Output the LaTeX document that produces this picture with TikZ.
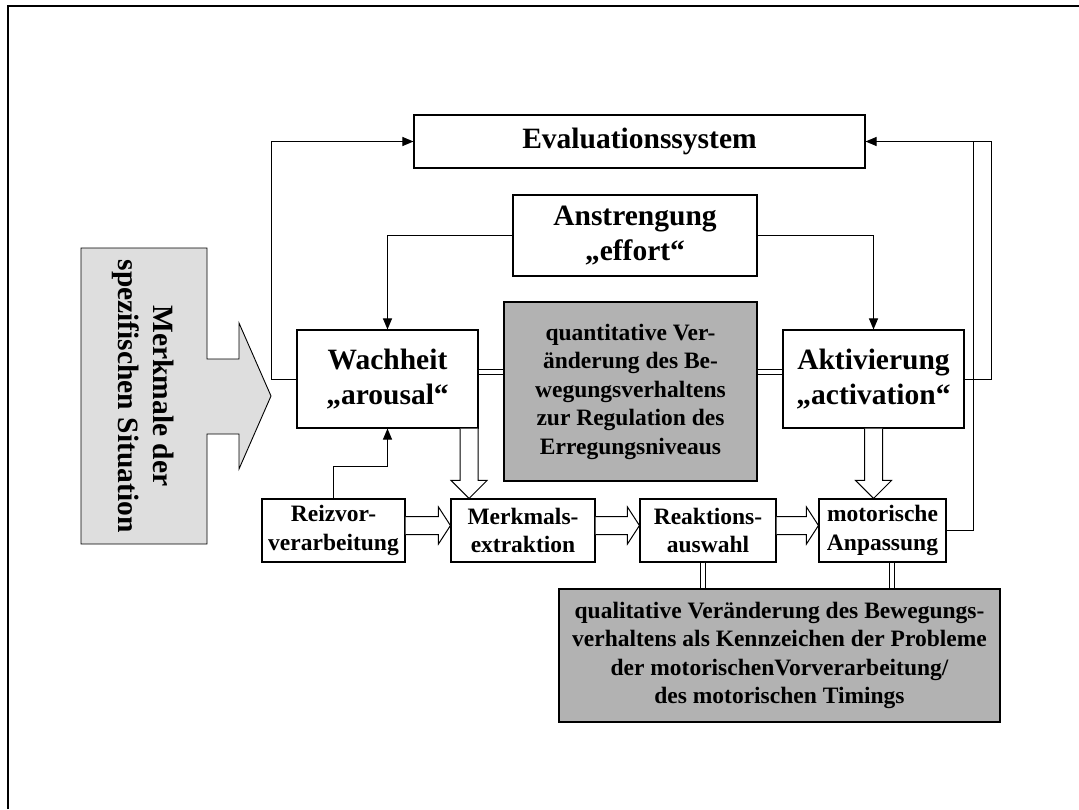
\documentclass[tikz,border=0pt]{standalone}
\usepackage{fontspec}
\setmainfont{Liberation Serif}
\usetikzlibrary{arrows.meta,calc}

\tikzset{
  box/.style={draw, line width=1.1pt, fill=white, align=center, inner sep=0pt},
  graybox/.style={box, fill=black!30},
  bigtxt/.style={font=\fontsize{29.5}{35}\selectfont\bfseries},
  midtxt/.style={font=\fontsize{23.5}{28.5}\selectfont\bfseries},
  conn/.style={line width=1pt, -{Triangle[length=11pt,width=9pt]}},
  plain/.style={line width=1pt},
  dbl/.style={draw=black, line width=1.1pt, double=white, double distance=3.2pt},
  hollow/.style={draw, line width=1pt, fill=white, line join=miter},
}

% block arrow pointing right, from node #1 to node #2, at the height of coordinate #3
\newcommand\blockright[3]{%
  \draw[hollow] ($(#1.east|-#3)+(0,-9)$) -- ($(#2.west|-#3)+(-12,-9)$)
    -- ($(#2.west|-#3)+(-12,-18.5)$) -- (#2.west|-#3)
    -- ($(#2.west|-#3)+(-12,18.5)$) -- ($(#2.west|-#3)+(-12,9)$)
    -- ($(#1.east|-#3)+(0,9)$);}
% block arrow pointing down, from node #1 to node #2, along the x of coordinate #3
\newcommand\blockdown[3]{%
  \draw[hollow] ($(#1.south-|#3)+(-9,0)$) -- ($(#2.north-|#3)+(-9,-18)$)
    -- ($(#2.north-|#3)+(-18,-18)$) -- (#2.north-|#3)
    -- ($(#2.north-|#3)+(18,-18)$) -- ($(#2.north-|#3)+(9,-18)$)
    -- ($(#1.south-|#3)+(9,0)$);}

\begin{document}
\begin{tikzpicture}[x=1pt,y=-1pt]
\useasboundingbox (0,0) rectangle (1079,809);

% page frame (top and left edges)
\draw[line width=2pt] (7.5,809) -- (7.5,5.5) -- (1079,5.5);

% situation arrow
\fill[black!13] (81,248) -- (207,248) -- (207,359) -- (239,359) -- (239,323)
  -- (271,396) -- (239,469) -- (239,434) -- (207,434) -- (207,544) -- (81,544) -- cycle;
\draw[line width=0.9pt] (81,248) -- (207,248) -- (207,359) -- (239,359) -- (239,323)
  -- (271,396) -- (239,469) -- (239,434) -- (207,434) -- (207,544) -- (81,544) -- cycle;
\node[bigtxt, rotate=-90, align=center] (sit) at (143,396)
  {Merkmale der\\spezifischen Situation};

% main boxes
\node[box, bigtxt, minimum width=451pt, minimum height=53pt] (eval) at (639.5,141.5) {Evaluationssystem};
\node[box, bigtxt, minimum width=244pt, minimum height=81pt] (effort) at (635,235.5) {Anstrengung\\„effort“};
\node[box, bigtxt, minimum width=181pt, minimum height=98pt] (wach) at (387.5,379) {Wachheit\\„arousal“};
\node[box, bigtxt, minimum width=181pt, minimum height=98pt] (akt) at (873.5,379) {Aktivierung\\„activation“};
\node[graybox, midtxt, minimum width=253pt, minimum height=179pt] (quant) at (630.5,391.5)
  {quantitative Ver-\\änderung des Be-\\wegungsverhaltens\\zur Regulation des\\Erregungsniveaus};

% processing chain
\node[box, midtxt, minimum width=143pt, minimum height=63pt] (reiz) at (333.5,530.5) {Reizvor-\\verarbeitung};
\node[box, midtxt, minimum width=144pt, minimum height=63pt] (merk) at (523,530.5) {Merkmals-\\extraktion};
\node[box, midtxt, minimum width=136pt, minimum height=63pt] (reak) at (708,530.5) {Reaktions-\\auswahl};
\node[box, midtxt, minimum width=127pt, minimum height=63pt] (motor) at (882.5,530.5) {motorische\\Anpassung};

\node[graybox, midtxt, minimum width=441pt, minimum height=133pt] (qual) at (779.5,655.5)
  {qualitative Veränderung des Bewegungs-\\verhaltens als Kennzeichen der Probleme\\der motorischenVorverarbeitung/\\des motorischen Timings};

% helper coordinates for routing
\coordinate (lx) at (271,0);
\coordinate (rx1) at (973,0);
\coordinate (rx2) at (991,0);
\coordinate (ry) at (0,466);
\coordinate (dl) at (0,372);
\coordinate (hrow) at (0,525.5);
\coordinate (va) at (469,0);
\coordinate (vb) at (873.5,0);
\coordinate (q1) at (703,0);
\coordinate (q2) at (892,0);

% feedback to the evaluation system
\draw[conn] (wach.west) -- (wach.west -| lx) -- (eval.west -| lx) -- (eval.west);
\draw[conn] (akt.east) -- (akt.east -| rx2) -- (eval.east -| rx2) -- (eval.east);
\draw[plain] (motor.east) -- (motor.east -| rx1) -- (eval.east -| rx1);

% effort to arousal and activation
\draw[conn] (effort.west) -| (wach.north);
\draw[conn] (effort.east) -| (akt.north);

% stimulus preprocessing to arousal
\draw[conn] (reiz.north) -- (reiz.north |- ry) -| (wach.south);

% double links
\draw[dbl] (wach.east |- dl) -- (quant.west |- dl);
\draw[dbl] (quant.east |- dl) -- (akt.west |- dl);
\draw[dbl] (reak.south -| q1) -- (qual.north -| q1);
\draw[dbl] (motor.south -| q2) -- (qual.north -| q2);

% block arrows
\blockright{reiz}{merk}{hrow}
\blockright{merk}{reak}{hrow}
\blockright{reak}{motor}{hrow}
\blockdown{wach}{merk}{va}
\blockdown{akt}{motor}{vb}

\end{tikzpicture}
\end{document}
